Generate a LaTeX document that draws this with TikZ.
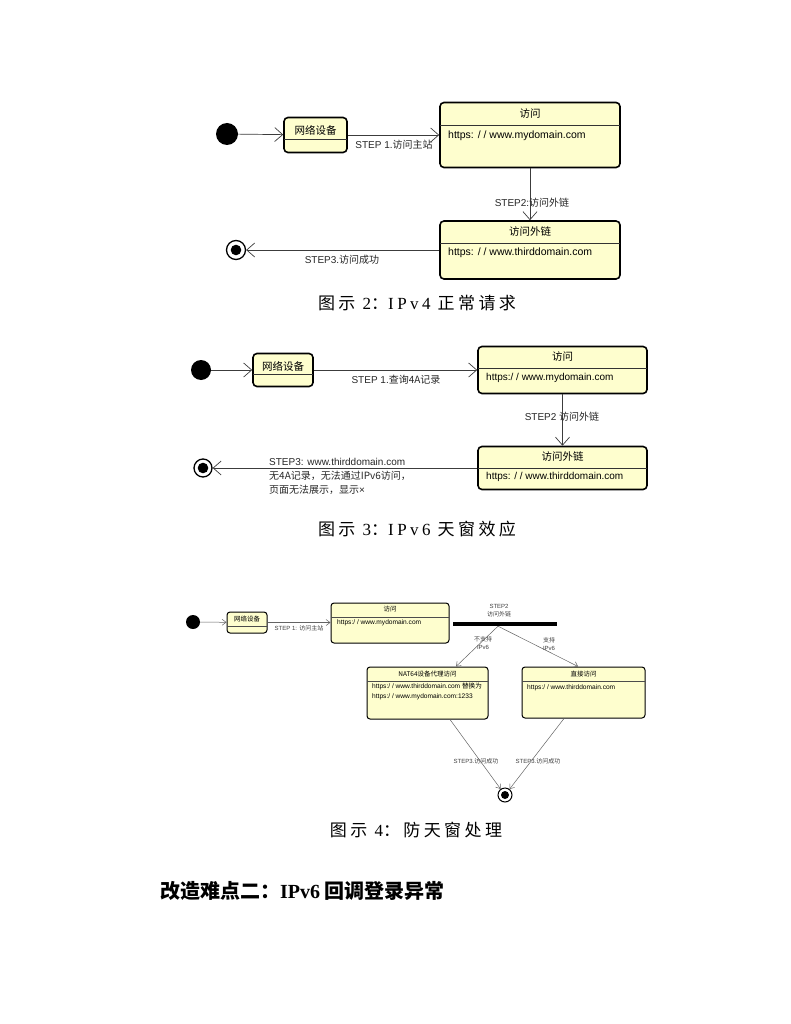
\documentclass[tikz,border=0pt]{standalone}
\usepackage{fontspec}
\setmainfont{Liberation Sans}
\newfontfamily\cjk{Noto Sans CJK SC}
\newfontfamily\capcjk{Noto Sans CJK SC}[LetterSpace=20]
\newfontfamily\capser{Liberation Serif}[LetterSpace=20]
\newfontfamily\hdser{Liberation Serif}
\usetikzlibrary{arrows.meta}
\definecolor{stfill}{RGB}{254,254,206}
\definecolor{lnc}{RGB}{60,60,60}
\tikzset{
  statebox/.style={draw=black, fill=stfill, rounded corners=4pt, line width=1.6pt, inner sep=0},
  smallbox/.style={draw=black, fill=stfill, rounded corners=3pt, line width=1pt, inner sep=0},
  startdot/.style={circle, fill=black, inner sep=0},
  enddot/.style={circle, draw=black, fill=white, line width=1.3pt, inner sep=0, minimum size=19pt,
     path picture={\fill[black] (path picture bounding box.center) circle (5.3pt);}},
  enddotsm/.style={circle, draw=black, fill=white, line width=1pt, inner sep=0, minimum size=14pt,
     path picture={\fill[black] (path picture bounding box.center) circle (4pt);}},
  conn/.style={draw=lnc, line width=0.7pt, -{Straight Barb[length=8pt,width=14pt]}},
  connsm/.style={draw=lnc!80, line width=0.5pt, -{Straight Barb[length=4pt,width=6pt]}},
  divline/.style={line width=1pt, draw=black!80},
  divlinesm/.style={line width=0.6pt, draw=black!70},
  ttl/.style={inner sep=0, font=\fontsize{10.5}{12}\selectfont\cjk},
  cnt/.style={inner sep=0, anchor=west, font=\fontsize{10.5}{12}\selectfont},
  lbl/.style={inner sep=0, font=\fontsize{10}{12}\selectfont, text=black!85},
  ttlsm/.style={inner sep=0, font=\fontsize{6.5}{8}\selectfont\cjk},
  cntsm/.style={inner sep=0, anchor=west, font=\fontsize{6.6}{10}\selectfont},
  lblsm/.style={inner sep=0, font=\fontsize{6}{8}\selectfont, text=black!75, align=center},
}
\begin{document}
\begin{tikzpicture}[x=1pt,y=-1pt]
\useasboundingbox (0,0) rectangle (791,1024);

% ---------------- Diagram 1 (IPv4) ----------------
\node[startdot, minimum size=22pt] (i1) at (227,134) {};
\node[statebox, minimum width=63pt, minimum height=35pt] (n1) at (315.5,135) {};
\draw[divline] (284,140) -- (347,140);
\node[ttl] (n1t) at (315.5,130) {网络设备};

\node[statebox, minimum width=180pt, minimum height=65pt] (v1) at (530,135) {};
\draw[divline] (440,126) -- (620,126);
\node[ttl] (v1t) at (530,114) {访问};
\node[cnt] (v1c) at (448,136) {https: / / www.mydomain.com};

\node[statebox, minimum width=180pt, minimum height=58pt] (w1) at (530,250) {};
\draw[divline] (440,243) -- (620,243);
\node[ttl] (w1t) at (530,232) {访问外链};
\node[cnt] (w1c) at (448,253) {https: / / www.thirddomain.com};

\node[enddot] (f1) at (236,250) {};

\draw[conn] (i1) -- (n1);
\draw[conn] (n1) -- (v1);
\draw[conn] (v1) -- (w1);
\draw[conn] (w1) -- (f1);
\node[lbl] (l11) at (394,145) {STEP 1.{\cjk 访问主站}};
\node[lbl] (l12) at (532,203) {STEP2:{\cjk 访问外链}};
\node[lbl] (l13) at (342,260) {STEP3.{\cjk 访问成功}};

\node[inner sep=0] (cap2) at (417,303) {\fontsize{17}{20}\selectfont\capcjk 图示 {\capser 2}：{\capser IPv4} 正常请求};

% ---------------- Diagram 2 (IPv6 skylight) ----------------
\node[startdot, minimum size=20pt] (i2) at (201,370) {};
\node[statebox, minimum width=60pt, minimum height=33pt] (n2) at (283,370) {};
\draw[divline] (253,374) -- (313,374);
\node[ttl] (n2t) at (283,366) {网络设备};

\node[statebox, minimum width=169pt, minimum height=47pt] (v2) at (562.5,370) {};
\draw[divline] (478,368) -- (647,368);
\node[ttl] (v2t) at (562.5,357) {访问};
\node[cnt, font=\fontsize{10}{12}\selectfont] (v2c) at (486,378) {https:/ / www.mydomain.com};

\node[statebox, minimum width=169pt, minimum height=43pt] (w2) at (562.5,468) {};
\draw[divline] (478,468) -- (647,468);
\node[ttl] (w2t) at (562.5,457) {访问外链};
\node[cnt, font=\fontsize{10}{12}\selectfont] (w2c) at (486,477) {https: / / www.thirddomain.com};

\node[enddot, minimum size=18pt] (f2) at (203,468) {};

\draw[conn] (i2) -- (n2);
\draw[conn] (n2) -- (v2);
\draw[conn] (v2) -- (w2);
\draw[conn] (w2) -- (f2);
\node[lbl] (l21) at (396,380) {STEP 1.{\cjk 查询4A记录}};
\node[lbl] (l22) at (562,417) {STEP2 {\cjk 访问外链}};
\node[lbl, anchor=north west, align=left, font=\fontsize{10}{14}\selectfont] (l23) at (269,458)
  {STEP3: www.thirddomain.com\\{\cjk 无4A记录，无法通过IPv6访问，}\\{\cjk 页面无法展示，显示}×};

\node[inner sep=0] (cap3) at (417,529) {\fontsize{17}{20}\selectfont\capcjk 图示 {\capser 3}：{\capser IPv6} 天窗效应};

% ---------------- Diagram 3 (anti-skylight) ----------------
\node[startdot, minimum size=14pt] (i3) at (193,622) {};
\node[smallbox, minimum width=40pt, minimum height=21pt] (n3) at (247,622.5) {};
\draw[divlinesm] (227,626) -- (267,626);
\node[ttlsm] (n3t) at (247,619) {网络设备};

\node[smallbox, minimum width=118pt, minimum height=40pt] (v3) at (390,623) {};
\draw[divlinesm] (331,617) -- (449,617);
\node[ttlsm] (v3t) at (390,609) {访问};
\node[cntsm] (v3c) at (337,623) {https:/ / www.mydomain.com};

\node[fill=black, inner sep=0, minimum width=104pt, minimum height=4pt] (bar) at (505,624) {};
\node[lblsm] (l32) at (499,611) {STEP2\\{\cjk 访问外链}};

\node[smallbox, minimum width=121pt, minimum height=52pt] (nat) at (427.5,693) {};
\draw[divlinesm] (367,681) -- (488,681);
\node[ttlsm] (natt) at (427.5,674) {NAT64设备代理访问};
\node[cntsm, anchor=north west, align=left] (natc) at (372,683) {https:/ / www.thirddomain.com {\cjk 替换为}\\https:/ / www.mydomain.com:1233};

\node[smallbox, minimum width=123pt, minimum height=51pt] (dir) at (583.5,692.5) {};
\draw[divlinesm] (522,681) -- (645,681);
\node[ttlsm] (dirt) at (583.5,674) {直接访问};
\node[cntsm] (dirc) at (527,688) {https:/ / www.thirddomain.com};

\node[enddotsm] (f3) at (505,795) {};

\draw[connsm] (i3) -- (n3);
\draw[connsm] (n3) -- (n3 -| v3.west);
\draw[connsm] ([xshift=-7pt]bar.south) -- ([xshift=28.5pt]nat.north);
\draw[connsm] ([xshift=-7pt]bar.south) -- ([xshift=-5.5pt]dir.north);
\draw[connsm] ([xshift=22.5pt]nat.south) -- (f3);
\draw[connsm] ([xshift=-19.5pt]dir.south) -- (f3);

\node[lblsm] (l31) at (299,628) {STEP 1: {\cjk 访问主站}};
\node[lblsm] (l33) at (483,643) {{\cjk 不支持}\\IPv6};
\node[lblsm] (l34) at (549,644) {{\cjk 支持}\\IPv6};
\node[lblsm] (l35) at (476,761) {STEP3.{\cjk 访问成功}};
\node[lblsm] (l36) at (538,761) {STEP3.{\cjk 访问成功}};

\node[inner sep=0] (cap4) at (416,830) {\fontsize{17}{20}\selectfont\capcjk 图示 {\capser 4}：防天窗处理};

% ---------------- Heading ----------------
\node[inner sep=0, anchor=west] (hd) at (160,891) {\fontsize{20}{24}\selectfont\cjk\bfseries 改造难点二：{\hdser\bfseries IPv6} 回调登录异常};
\end{tikzpicture}
\end{document}
